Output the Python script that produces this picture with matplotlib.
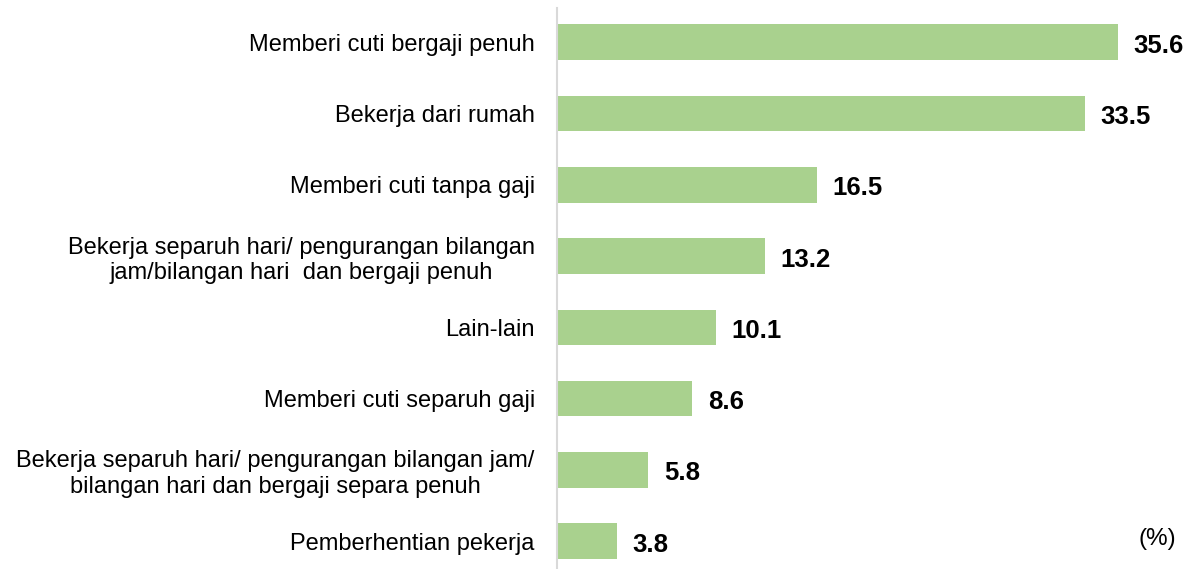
import matplotlib.pyplot as plt

categories = [
    "Memberi cuti bergaji penuh",
    "Bekerja dari rumah",
    "Memberi cuti tanpa gaji",
    "Bekerja separuh hari/ pengurangan bilangan\njam/bilangan hari  dan bergaji penuh",
    "Lain-lain",
    "Memberi cuti separuh gaji",
    "Bekerja separuh hari/ pengurangan bilangan jam/\nbilangan hari dan bergaji separa penuh",
    "Pemberhentian pekerja",
]
values = [35.6, 33.5, 16.5, 13.2, 10.1, 8.6, 5.8, 3.8]

plt.rcParams['font.family'] = ['Liberation Sans', 'DejaVu Sans']

fig = plt.figure(figsize=(11.93, 5.69), dpi=100)
ax = fig.add_axes([557 / 1193, 0, 1 - 557 / 1193 - 6 / 1193, 1 - 8 / 569])

pos = list(range(len(values)))
ax.barh(pos, values, height=0.5, color='#a9d18e')
for p, v in zip(pos, values):
    ax.text(v + 1.0, p + 0.05, f"{v:.1f}", va='center', ha='left',
            fontsize=18.5, fontweight='bold')

ax.set_xlim(0, 40)
ax.set_ylim(7.39, -0.48)
ax.set_yticks(pos)
ax.set_yticklabels(categories, fontsize=17, multialignment='center',
                   linespacing=1.2)
ax.tick_params(axis='y', length=0, pad=16)
ax.set_xticks([])
for s in ['top', 'right', 'bottom']:
    ax.spines[s].set_visible(False)
ax.spines['left'].set_color('#d9d9d9')
ax.spines['left'].set_linewidth(1.5)

ax.text(0.953, 0.053, "(%)", transform=ax.transAxes, fontsize=17.5,
        ha='center', va='center')

fig.savefig("out.png", dpi=100)
